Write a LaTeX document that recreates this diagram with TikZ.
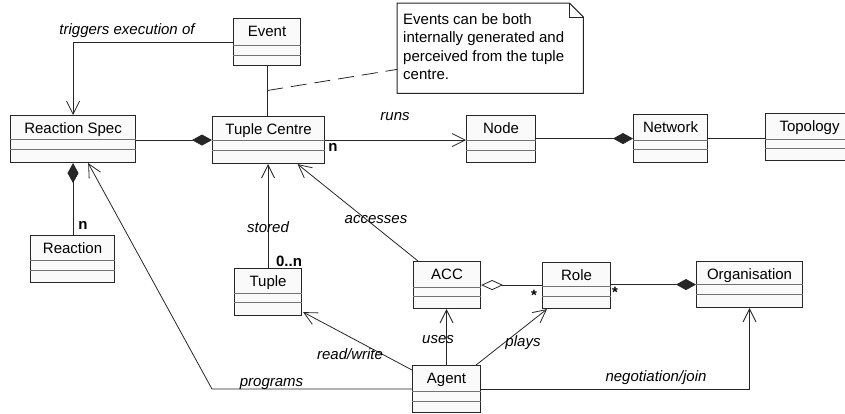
\documentclass[tikz,border=0pt]{standalone}
\usepackage{fontspec}
\setmainfont{Liberation Sans}
\usetikzlibrary{arrows.meta,calc}

\tikzset{
  cls/.style={draw=black!85, fill=black!2, line width=1.1pt, rectangle, inner sep=0pt, anchor=north west},
  sep/.style={draw=black!55, line width=1pt},
  clsname/.style={font=\fontsize{15}{18}\selectfont, inner sep=0pt, anchor=base},
  rel/.style={draw=black!85, line width=0.8pt},
  assoc/.style={rel, -{Straight Barb[length=13pt,width=13pt,line width=0.8pt]}},
  comp/.style={rel, {Diamond[length=20pt,width=11pt]}-},
  aggr/.style={rel, {Diamond[open,length=22pt,width=10pt,fill=white]}-},
  notelink/.style={draw=black!85, line width=0.8pt, dash pattern=on 16pt off 8pt},
  notebox/.style={draw=black!85, fill=white, line width=1pt},
  lbl/.style={font=\fontsize{15}{18}\selectfont\itshape, inner sep=0pt, anchor=base},
  mult/.style={font=\fontsize{15}{18}\selectfont\bfseries, inner sep=0pt, anchor=base},
}

% UML class box: id, title, left, top, width, height, name height, attribute height
\newcommand\umlclass[8]{%
  \node[cls, minimum width=#5pt, minimum height=#6pt] (#1) at (#3,#4) {};
  \node[clsname] (#1-title) at ($(#1.north)+(0,18.5)$) {#2};
  \draw[sep] ($(#1.north west)+(0,#7)$) -- ($(#1.north east)+(0,#7)$);
  \draw[sep] ($(#1.north west)+(0,#7+#8)$) -- ($(#1.north east)+(0,#7+#8)$);
}

\begin{document}
\begin{tikzpicture}[x=1pt,y=-1pt]
\useasboundingbox (0,0) rectangle (845,413);
\clip (0,0) rectangle (845,413);

% classes
\umlclass{ev}{Event}{233}{18}{67}{47}{27}{10}
\umlclass{rs}{Reaction Spec}{10}{115}{125}{47}{24}{10}
\umlclass{tc}{Tuple Centre}{212}{116}{112}{47}{24}{10}
\umlclass{nd}{Node}{466}{115}{69}{47}{25}{10}
\umlclass{nw}{Network}{633}{114}{74}{48}{26}{9}
\umlclass{tp}{Topology}{765}{113}{88}{47}{26}{9}
\umlclass{re}{Reaction}{30}{235}{84}{47}{25}{10}
\umlclass{tu}{Tuple}{234}{268}{67}{47}{25}{9}
\umlclass{ac}{ACC}{413}{261}{67}{47}{26}{9}
\umlclass{ro}{Role}{542}{262}{68}{46}{24}{10}
\umlclass{og}{Organisation}{696}{261}{106}{46}{23}{10}
\umlclass{ag}{Agent}{412}{365}{68}{47}{26}{10}

% comment note with folded corner
\node[inner sep=0pt, minimum width=186pt, minimum height=90pt, anchor=north west] (note) at (397,3) {};
\draw[notebox] (note.north west) -- ($(note.north east)+(-14,0)$) -- ($(note.north east)+(0,14)$)
  -- (note.south east) -- (note.south west) -- cycle;
\draw[notebox, fill=none] ($(note.north east)+(-14,0)$) -- ($(note.north east)+(-14,14)$) -- ($(note.north east)+(0,14)$);
\node[font=\fontsize{15}{18.4}\selectfont, align=left, inner sep=0pt, anchor=north west] (notetext)
  at ($(note.north west)+(6,10.5)$) {Events can be both\\internally generated and\\perceived from the tuple\\centre.};

% connectors
\draw[assoc] (ev.west) -| (rs.north);
\draw[rel] (ev.south) -- (ev.south |- tc.north);
\coordinate (evtcmid) at ($(ev.south)!0.49!(ev.south |- tc.north)$);
\draw[notelink] (evtcmid) -- ($(note.south west)+(0,-24)$);

\draw[comp] (tc.west) -- (tc.west -| rs.east);
\draw[assoc] (tc.east) -- (tc.east -| nd.west);
\draw[comp] (nw.west) -- (nw.west -| nd.east);
\draw[rel] (nw.east) -- (nw.east -| tp.west);
\draw[comp] (rs.south) -- (rs.south |- re.north);

\coordinate (rsprog) at ($(rs.south west)!0.62!(rs.south east)$);
\draw[assoc] (ag.west) -- (ag.west -| tc.west) -- (rsprog);
\draw[assoc] (tu.north) -- (tu.north |- tc.south);
\draw[assoc] ($(ac.north west)+(5,0)$) -- ($(tc.south)+(29,0)$);
\draw[assoc] ($(ag.north west)+(0,5)$) -- ($(tu.south east)+(1,-4)$);
\draw[assoc] (ag.north) -- (ag.north |- ac.south);
\draw[assoc] ($(ag.north east)+(-5,0)$) -- ($(ro.south west)+(5,0)$);
\draw[aggr] (ac.east) -- (ac.east -| ro.west);
\draw[comp] (og.west) -- (og.west -| ro.east);
\draw[assoc] (ag.east) -| (og.south);

% connector labels
\node[lbl] (l-trig) at (127,34.5) {triggers execution of};
\node[lbl] (l-runs) at (395,120.5) {runs};
\node[lbl] (l-stored) at (268,232.5) {stored};
\node[lbl] (l-acc) at (376,223) {accesses};
\node[lbl] (l-rw) at (350,359) {read/write};
\node[lbl] (l-prog) at (271.5,386) {programs};
\node[lbl] (l-uses) at (438,343) {uses};
\node[lbl] (l-plays) at (523,346.5) {plays};
\node[lbl] (l-neg) at (656,381.5) {negotiation/join};

% multiplicities
\node[mult] (m-tc) at (333,151.5) {n};
\node[mult] (m-re) at (83,229) {n};
\node[mult] (m-tu) at (289,266.5) {0..n};
\node[mult] (m-ro1) at (534,300) {*};
\node[mult] (m-ro2) at (615,297) {*};
\end{tikzpicture}
\end{document}
